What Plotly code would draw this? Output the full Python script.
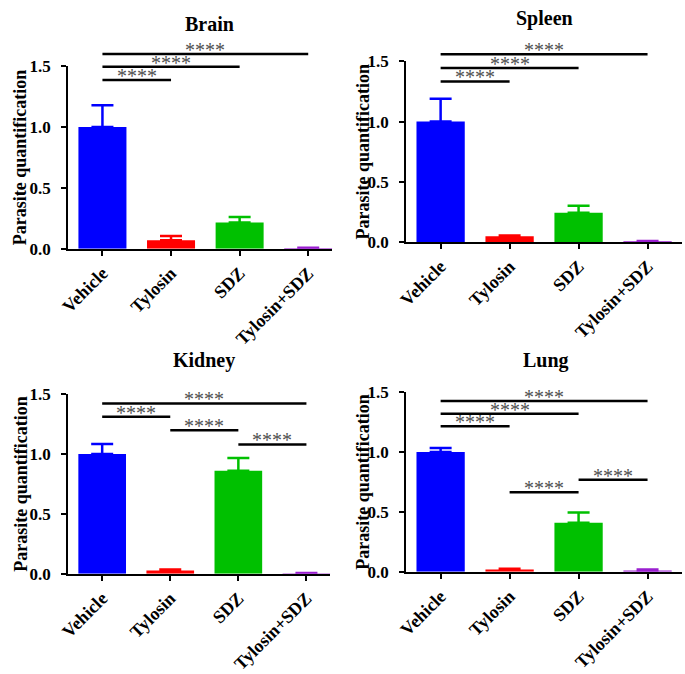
import plotly.graph_objects as go

W, H = 685, 674

categories = ["Vehicle", "Tylosin", "SDZ", "Tylosin+SDZ"]
bar_colors = ["#0000FF", "#FF0000", "#00C000", "#9A1FD0"]

titles = ["Brain", "Spleen", "Kidney", "Lung"]

brain_mean = [1.0, 0.07, 0.216, 0.005]
brain_err = [0.18, 0.035, 0.044, 0.003]
spleen_mean = [1.0, 0.046, 0.242, 0.005]
spleen_err = [0.19, 0.006, 0.058, 0.002]
kidney_mean = [1.0, 0.027, 0.86, 0.005]
kidney_err = [0.083, 0.008, 0.107, 0.002]
lung_mean = [1.0, 0.02, 0.41, 0.01]
lung_err = [0.035, 0.005, 0.085, 0.01]

# significance brackets: (from index, to index, height)
brain_sig = [(0, 1, 1.386), (0, 2, 1.496), (0, 3, 1.60)]
spleen_sig = [(0, 1, 1.333), (0, 2, 1.446), (0, 3, 1.56)]
kidney_sig = [(0, 3, 1.423), (0, 1, 1.312), (1, 2, 1.199), (2, 3, 1.08)]
lung_sig = [(0, 3, 1.427), (0, 2, 1.32), (0, 1, 1.216), (1, 2, 0.665), (2, 3, 0.77)]

y_ticks = [0.0, 0.5, 1.0, 1.5]
y_tick_labels = ["0.0", "0.5", "1.0", "1.5"]
y_label = "Parasite quantification"
sig_label = "****"
YMAX = 1.5

means = [brain_mean, spleen_mean, kidney_mean, lung_mean]
errs = [brain_err, spleen_err, kidney_err, lung_err]
sigs = [brain_sig, spleen_sig, kidney_sig, lung_sig]

# panel geometry in pixels: (x_left, x_right, y_top(1.5), y_bottom(0), x_range_max)
panels = [
    (59, 327, 59, 247, 3.35),
    (402, 682, 54, 240, 3.5),
    (59, 325, 397, 582, 3.35),
    (402, 682, 395, 580, 3.5),
]
title_pos = [(202, 15), (542, 10), (197, 362), (544, 362)]
ylab_x = [11, 358, 11, 358]

FONT = "Liberation Serif"


def px(x):
    return x / W


def py(y):
    return 1 - y / H


fig = go.Figure()
annotations = []
shapes = []

for p in range(4):
    xl, xr, yt, yb, xmax = panels[p]
    ax = "" if p == 0 else str(p + 1)
    xa, ya = "x" + ax, "y" + ax
    for i, cat in enumerate(categories):
        fig.add_trace(go.Bar(
            x=[cat], y=[means[p][i]],
            marker=dict(color=bar_colors[i], line=dict(width=0)),
            width=0.7,
            error_y=dict(type="data", symmetric=False, array=[errs[p][i]],
                         arrayminus=[0], color=bar_colors[i], thickness=2.5, width=11),
            xaxis=xa, yaxis=ya, showlegend=False, hoverinfo="skip",
        ))
    axis_common = dict(showline=True, linecolor="black", linewidth=2, ticks="outside",
                       ticklen=5, tickwidth=2, tickcolor="black", showgrid=False,
                       zeroline=False, fixedrange=True)
    fig.layout["xaxis" + ax] = dict(
        domain=[px(xl), px(xr)], anchor=ya, range=[-0.5, xmax],
        categoryorder="array", categoryarray=categories, tickangle=-45,
        tickfont=dict(family=FONT, size=18, color="black", weight="bold"),
        **axis_common)
    fig.layout["yaxis" + ax] = dict(
        domain=[py(yb), py(yt)], anchor=xa, range=[0, YMAX],
        tickvals=y_ticks, ticktext=y_tick_labels, ticklabelstandoff=7,
        tickfont=dict(family=FONT, size=17, color="black", weight="bold"),
        **axis_common)
    # significance brackets
    for (a, b, h) in sigs[p]:
        shapes.append(dict(type="line", xref=xa, yref=ya + " domain",
                           x0=a, x1=b, y0=h / YMAX, y1=h / YMAX,
                           line=dict(color="black", width=2.5)))
        annotations.append(dict(xref=xa, yref=ya + " domain", x=(a + b) / 2,
                                y=h / YMAX, text=sig_label, showarrow=False,
                                yanchor="middle", yshift=4,
                                font=dict(family=FONT, size=20, color="#505050")))
    tx, ty = title_pos[p]
    annotations.append(dict(xref="paper", yref="paper", x=px(tx), y=py(ty),
                            text="<b>%s</b>" % titles[p], showarrow=False,
                            xanchor="center", yanchor="middle",
                            font=dict(family=FONT, size=20, color="black")))
    annotations.append(dict(xref="paper", yref="paper", x=px(ylab_x[p]),
                            y=py((yt + yb) / 2), text="<b>%s</b>" % y_label,
                            showarrow=False, textangle=-90, xanchor="center",
                            yanchor="middle",
                            font=dict(family=FONT, size=18, color="black")))

fig.update_layout(
    width=W, height=H, margin=dict(l=0, r=0, t=0, b=0),
    paper_bgcolor="white", plot_bgcolor="white", barmode="overlay",
    hovermode=False, annotations=annotations, shapes=shapes,
)

fig.write_html("out.html", config={"displayModeBar": False, "staticPlot": True},
               post_script="document.body.style.margin='0';document.body.style.overflow='hidden';")
